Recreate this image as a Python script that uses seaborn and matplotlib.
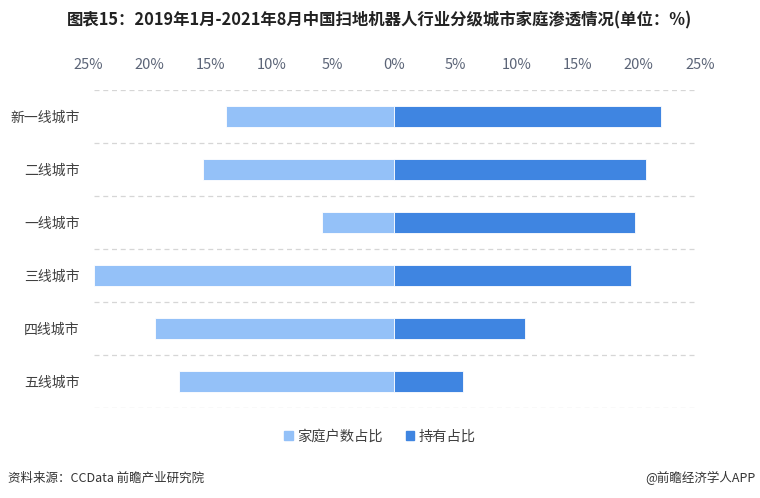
import numpy as np
import pandas as pd
import matplotlib
matplotlib.use("Agg")
import matplotlib.pyplot as plt
import seaborn as sns
from matplotlib.patches import Patch

cities = ["新一线城市", "二线城市", "一线城市", "三线城市", "四线城市", "五线城市"]
household_share = [13.7, 15.6, 5.9, 24.5, 19.5, 17.6]   # 家庭户数占比
holding_share = [21.8, 20.6, 19.7, 19.4, 10.7, 5.6]     # 持有占比
tick_values = [-25, -20, -15, -10, -5, 0, 5, 10, 15, 20, 25]

LIGHT = "#94c1f8"
DARK = "#3f85e1"

sns.set_theme(style="white")
plt.rcParams["font.family"] = ["Noto Sans CJK SC", "DejaVu Sans"]

df = pd.DataFrame({
    "city": cities,
    "household": -np.array(household_share),
    "holding": holding_share,
})

fig = plt.figure(figsize=(7.6, 4.98), dpi=100)
ax = fig.add_axes([88 / 760, 1 - 408 / 498, 612 / 760, 318 / 498])

sns.barplot(data=df, x="household", y="city", color=LIGHT, width=0.4,
            edgecolor="white", linewidth=0.6, saturation=1, ax=ax)
sns.barplot(data=df, x="holding", y="city", color=DARK, width=0.4,
            edgecolor="white", linewidth=0.6, saturation=1, ax=ax)

ax.set_xlim(-25, 25)
ax.set_ylim(len(cities) - 0.5, -0.5)
ax.set_xlabel("")
ax.set_ylabel("")

# 分隔虚线
for y in np.arange(-0.5, len(cities), 1):
    ax.axhline(y, xmin=0.01, xmax=0.99, color="#d6d6d6", linestyle=(0, (4, 3)),
               linewidth=0.9, zorder=0)

ax.xaxis.tick_top()
ax.set_xticks(tick_values)
ax.set_xticklabels([f"{abs(v)}%" for v in tick_values], fontsize=10.5,
                   color="#5b6477")
ax.tick_params(axis="x", length=0, pad=13)
ax.tick_params(axis="y", length=0, pad=6, labelsize=10, labelcolor="#404040")
for s in ax.spines.values():
    s.set_visible(False)

fig.text(0.5, 1 - 20 / 498,
         "图表15：2019年1月-2021年8月中国扫地机器人行业分级城市家庭渗透情况(单位：%)",
         ha="center", va="center", fontsize=11.8, fontweight="bold", color="#222222")

handles = [Patch(color=LIGHT, label="家庭户数占比"), Patch(color=DARK, label="持有占比")]
fig.legend(handles=handles, loc="center", bbox_to_anchor=(0.5, 1 - 437 / 498),
           ncol=2, frameon=False, fontsize=10.3, handlelength=0.6, handleheight=0.6,
           handletextpad=0.3, columnspacing=1.6, labelcolor="#404040")

fig.text(8 / 760, 1 - 478 / 498, "资料来源：CCData 前瞻产业研究院",
         ha="left", va="center", fontsize=9, color="#333333")
fig.text(756 / 760, 1 - 478 / 498, "@前瞻经济学人APP",
         ha="right", va="center", fontsize=9, color="#333333")

fig.savefig("out.png", dpi=100, facecolor="white")
